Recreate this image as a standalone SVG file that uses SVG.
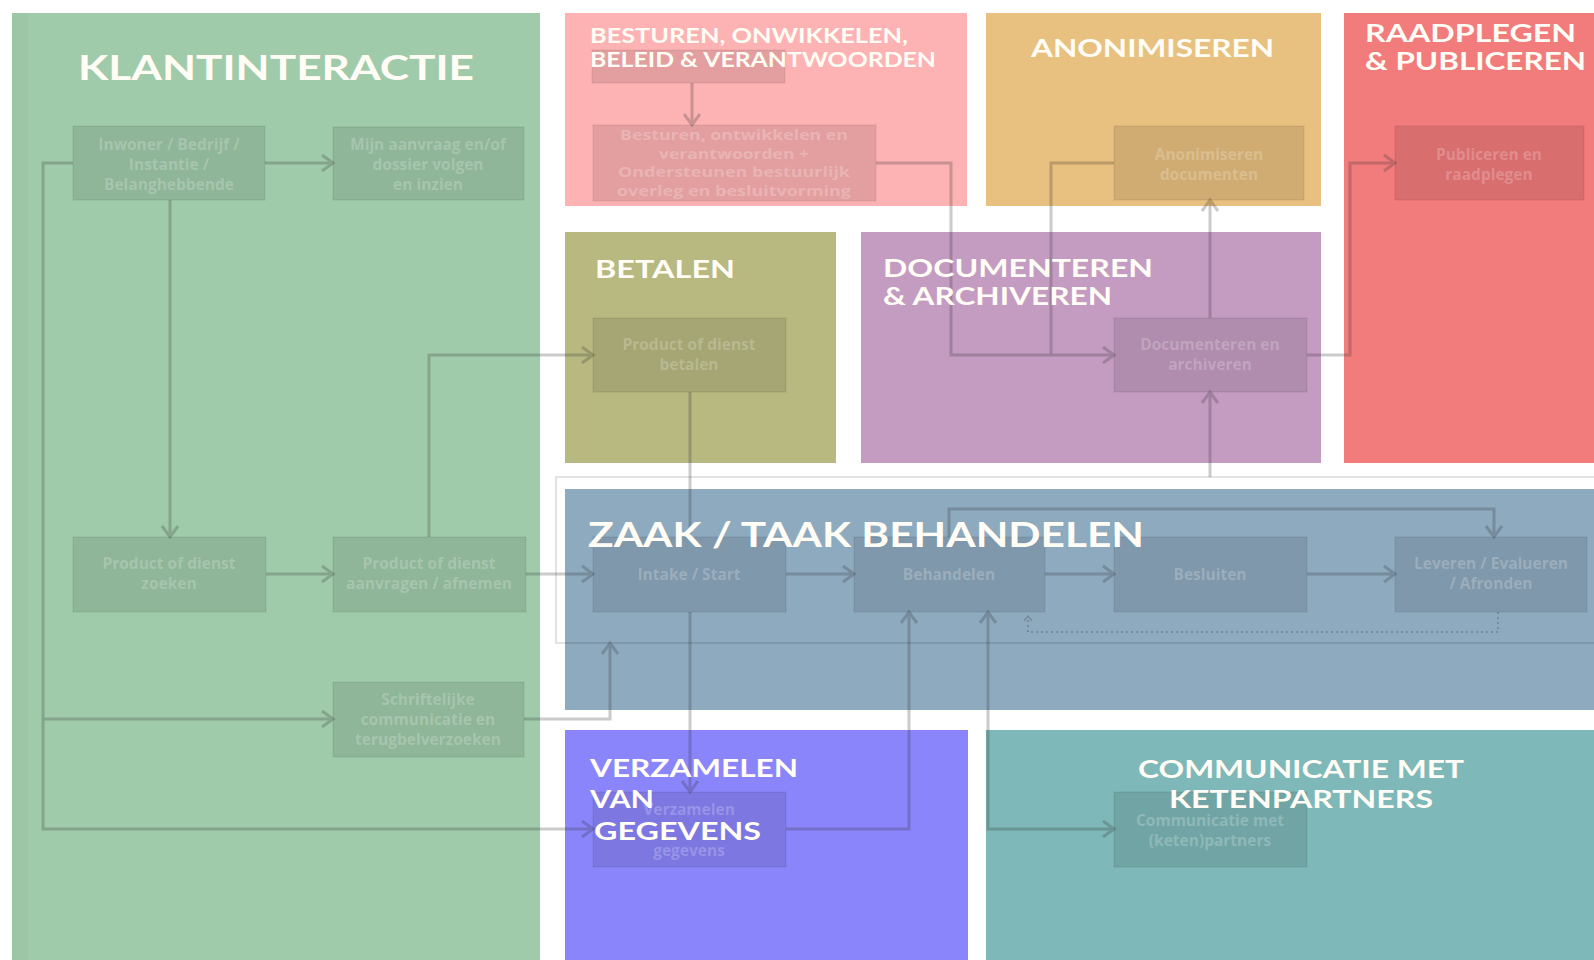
<svg xmlns="http://www.w3.org/2000/svg" width="1594" height="960" viewBox="0 0 1594 960">
<style>
.title{font-family:Lato,"Liberation Sans",sans-serif;font-weight:700;fill:#FFFDF5}
.nt{font-family:"Open Sans","Liberation Sans",sans-serif;font-weight:700;font-size:15.5px;fill:#ffffff;fill-opacity:0.22;text-anchor:middle}
.ns{font-size:13.5px}
.nbox{fill:#000;fill-opacity:0.1;stroke:#000;stroke-opacity:0.06;stroke-width:1.5}
.ln{fill:none;stroke:#333;stroke-width:3}
</style>
<defs>
<marker id="ah" markerUnits="userSpaceOnUse" markerWidth="20" markerHeight="22" refX="14" refY="10" orient="auto-start-reverse" viewBox="0 0 20 22">
<path d="M3,2 L14,10 L3,18" fill="none" stroke="#333" stroke-width="3"/>
</marker>
<marker id="ahs" markerUnits="userSpaceOnUse" markerWidth="10" markerHeight="10" refX="6" refY="5" orient="auto" viewBox="0 0 10 10">
<path d="M1,1 L6,5 L1,9" fill="none" stroke="#333" stroke-width="1.5"/>
</marker>
</defs>
<rect width="1594" height="960" fill="#ffffff"/>
<g id="panels">
<rect id="p-klant" x="12" y="13" width="528" height="947" fill="#A0CBAA"/>
<rect x="12" y="13" width="16" height="947" fill="#000" fill-opacity="0.025"/>
<rect id="p-besturen" x="565" y="13" width="402" height="193" fill="#FDB2B3"/>
<rect id="p-anon" x="986" y="13" width="335" height="193" fill="#E8C07F"/>
<rect id="p-raad" x="1344" y="13" width="250" height="450" fill="#F27B7C"/>
<rect id="p-betalen" x="565" y="232" width="271" height="231" fill="#B8B980"/>
<rect id="p-doc" x="861" y="232" width="460" height="231" fill="#C49CC2"/>
<rect id="p-zaak" x="565" y="489" width="1029" height="221" fill="#8EAABF"/>
<rect id="p-verz" x="565" y="730" width="403" height="230" fill="#8B85FB"/>
<rect id="p-comm" x="986" y="730" width="608" height="230" fill="#7EB8B8"/>
<rect x="556" y="477" width="1050" height="166" fill="none" stroke="#000" stroke-opacity="0.15" stroke-width="1.5"/>
</g>
<g id="connectors" opacity="0.25">
<path class="ln" d="M265,163 L333,163" marker-end="url(#ah)"/>
<path class="ln" d="M170,200 L170,537" marker-end="url(#ah)"/>
<path class="ln" d="M73,163 L43,163 L43,829 L593,829" marker-end="url(#ah)"/>
<path class="ln" d="M43,719 L333,719" marker-end="url(#ah)"/>
<path class="ln" d="M266,574 L333,574" marker-end="url(#ah)"/>
<path class="ln" d="M429,537 L429,355 L593,355" marker-end="url(#ah)"/>
<path class="ln" d="M526,574 L593,574" marker-end="url(#ah)"/>
<path class="ln" d="M524,719 L610,719 L610,643" marker-end="url(#ah)"/>
<path class="ln" d="M692,83 L692,125" marker-end="url(#ah)"/>
<path class="ln" d="M876,163 L951,163 L951,355 L1114,355" marker-end="url(#ah)"/>
<path class="ln" d="M1114,163 L1051,163 L1051,355"/>
<path class="ln" d="M1210,318 L1210,200" marker-end="url(#ah)"/>
<path class="ln" d="M1307,355 L1350,355 L1350,163 L1395,163" marker-end="url(#ah)"/>
<path class="ln" d="M1210,477 L1210,392" marker-end="url(#ah)"/>
<path class="ln" d="M690,392 L690,537"/>
<path class="ln" d="M690,612 L690,792" marker-end="url(#ah)"/>
<path class="ln" d="M786,574 L854,574" marker-end="url(#ah)"/>
<path class="ln" d="M1045,574 L1114,574" marker-end="url(#ah)"/>
<path class="ln" d="M1307,574 L1395,574" marker-end="url(#ah)"/>
<path class="ln" d="M949,537 L949,509 L1494,509 L1494,537" marker-end="url(#ah)"/>
<path class="ln" d="M786,829 L909,829 L909,612" marker-end="url(#ah)"/>
<path class="ln" d="M988,612 L988,829 L1114,829" marker-start="url(#ah)" marker-end="url(#ah)"/>
<path d="M1498,612 L1498,632 L1028,632 L1028,616" fill="none" stroke="#333" stroke-width="2" stroke-dasharray="2 3" marker-end="url(#ahs)"/>
</g>
<g id="n-inwoner"><rect class="nbox" x="73" y="126" width="192" height="74"/>
<text class="nt" x="169" y="150">Inwoner / Bedrijf /</text><text class="nt" x="169" y="170">Instantie /</text><text class="nt" x="169" y="190">Belanghebbende</text></g>
<g id="n-mijn"><rect class="nbox" x="333" y="127" width="191" height="73"/>
<text class="nt" x="428" y="150">Mijn aanvraag en/of</text><text class="nt" x="428" y="170">dossier volgen</text><text class="nt" x="428" y="190">en inzien</text></g>
<g id="n-zoeken"><rect class="nbox" x="73" y="537" width="193" height="75"/>
<text class="nt" x="169" y="569">Product of dienst</text><text class="nt" x="169" y="589">zoeken</text></g>
<g id="n-aanvragen"><rect class="nbox" x="333" y="537" width="193" height="75"/>
<text class="nt" x="429" y="569">Product of dienst</text><text class="nt" x="429" y="589">aanvragen / afnemen</text></g>
<g id="n-schrift"><rect class="nbox" x="333" y="682" width="191" height="75"/>
<text class="nt" x="428" y="705">Schriftelijke</text><text class="nt" x="428" y="725">communicatie en</text><text class="nt" x="428" y="745">terugbelverzoeken</text></g>
<g id="n-pinktop"><rect class="nbox" x="592" y="50" width="193" height="33"/></g>
<g id="n-besturen"><rect class="nbox" x="593" y="125" width="283" height="76"/>
<text class="nt ns" x="734" y="140" textLength="228" lengthAdjust="spacingAndGlyphs">Besturen, ontwikkelen en</text>
<text class="nt ns" x="734" y="158.5" textLength="150" lengthAdjust="spacingAndGlyphs">verantwoorden +</text>
<text class="nt ns" x="734" y="177" textLength="232" lengthAdjust="spacingAndGlyphs">Ondersteunen bestuurlijk</text>
<text class="nt ns" x="734" y="195.5" textLength="234" lengthAdjust="spacingAndGlyphs">overleg en besluitvorming</text></g>
<g id="n-anon"><rect class="nbox" x="1114" y="126" width="190" height="74"/>
<text class="nt" x="1209" y="160">Anonimiseren</text><text class="nt" x="1209" y="180">documenten</text></g>
<g id="n-publ"><rect class="nbox" x="1395" y="126" width="189" height="74"/>
<text class="nt" x="1489" y="160">Publiceren en</text><text class="nt" x="1489" y="180">raadplegen</text></g>
<g id="n-betalen"><rect class="nbox" x="593" y="318" width="193" height="74"/>
<text class="nt" x="689" y="350">Product of dienst</text><text class="nt" x="689" y="370">betalen</text></g>
<g id="n-doc"><rect class="nbox" x="1114" y="318" width="193" height="74"/>
<text class="nt" x="1210" y="350">Documenteren en</text><text class="nt" x="1210" y="370">archiveren</text></g>
<g id="n-intake"><rect class="nbox" x="593" y="537" width="193" height="75"/>
<text class="nt" x="689" y="580">Intake / Start</text></g>
<g id="n-behandelen"><rect class="nbox" x="854" y="537" width="191" height="75"/>
<text class="nt" x="949" y="580">Behandelen</text></g>
<g id="n-besluiten"><rect class="nbox" x="1114" y="537" width="193" height="75"/>
<text class="nt" x="1210" y="580">Besluiten</text></g>
<g id="n-leveren"><rect class="nbox" x="1395" y="537" width="192" height="75"/>
<text class="nt" x="1491" y="569">Leveren / Evalueren</text><text class="nt" x="1491" y="589">/ Afronden</text></g>
<g id="n-verz"><rect class="nbox" x="593" y="792" width="193" height="75"/>
<text class="nt" x="689" y="815">Verzamelen</text><text class="nt" x="689" y="856">gegevens</text></g>
<g id="n-comm"><rect class="nbox" x="1114" y="792" width="193" height="75"/>
<text class="nt" x="1210" y="826">Communicatie met</text><text class="nt" x="1210" y="846">(keten)partners</text></g>
<g id="titles">
<text class="title" x="78" y="80" font-size="35" textLength="396" lengthAdjust="spacingAndGlyphs">KLANTINTERACTIE</text>
<text class="title" x="590" y="43" font-size="20" textLength="318" lengthAdjust="spacingAndGlyphs">BESTUREN, ONWIKKELEN,</text>
<text class="title" x="590" y="67" font-size="20" textLength="346" lengthAdjust="spacingAndGlyphs">BELEID &amp; VERANTWOORDEN</text>
<text class="title" x="1031" y="57" font-size="25" textLength="243" lengthAdjust="spacingAndGlyphs">ANONIMISEREN</text>
<text class="title" x="1365" y="42" font-size="24" textLength="211" lengthAdjust="spacingAndGlyphs">RAADPLEGEN</text>
<text class="title" x="1365" y="70" font-size="24" textLength="221" lengthAdjust="spacingAndGlyphs">&amp; PUBLICEREN</text>
<text class="title" x="595" y="278" font-size="24" textLength="140" lengthAdjust="spacingAndGlyphs">BETALEN</text>
<text class="title" x="883" y="277" font-size="25" textLength="270" lengthAdjust="spacingAndGlyphs">DOCUMENTEREN</text>
<text class="title" x="883" y="305" font-size="25" textLength="229" lengthAdjust="spacingAndGlyphs">&amp; ARCHIVEREN</text>
<text class="title" x="588" y="547" font-size="34" textLength="556" lengthAdjust="spacingAndGlyphs">ZAAK / TAAK BEHANDELEN</text>
<text class="title" x="590" y="777" font-size="24" textLength="208" lengthAdjust="spacingAndGlyphs">VERZAMELEN</text>
<text class="title" x="590" y="808" font-size="24" textLength="64" lengthAdjust="spacingAndGlyphs">VAN</text>
<text class="title" x="594" y="840" font-size="24" textLength="167" lengthAdjust="spacingAndGlyphs">GEGEVENS</text>
<text class="title" x="1138" y="778" font-size="24" textLength="326" lengthAdjust="spacingAndGlyphs">COMMUNICATIE MET</text>
<text class="title" x="1169" y="808" font-size="24" textLength="264" lengthAdjust="spacingAndGlyphs">KETENPARTNERS</text>
</g>
</svg>
